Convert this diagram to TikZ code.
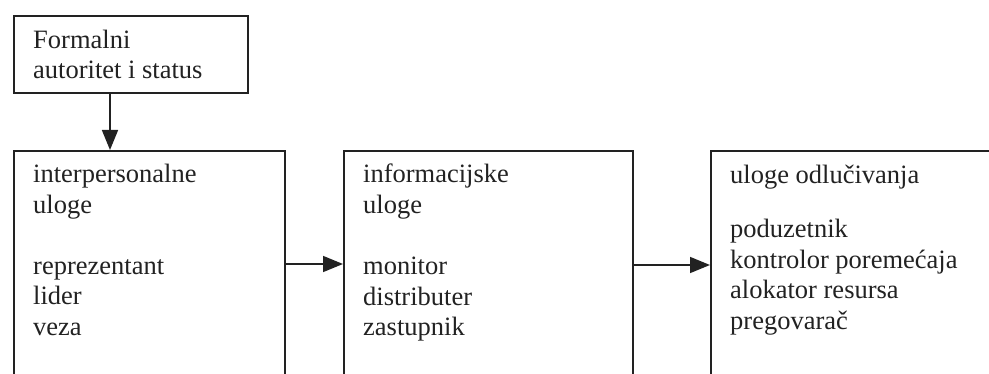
\documentclass[tikz,border=0pt]{standalone}
\usepackage{fontspec}
\setmainfont{Liberation Serif}
\usetikzlibrary{arrows.meta}
\definecolor{ink}{HTML}{222222}
\begin{document}
\begin{tikzpicture}[x=1pt,y=1pt,
  box/.style={draw=ink, line width=1.6pt, anchor=north west, inner sep=0pt, rectangle},
  txt/.style={anchor=north west, inner sep=0pt, align=left, text=ink,
    font=\fontsize{26.5pt}{30.6pt}\selectfont},
  arr/.style={draw=ink, line width=1.6pt, -{Triangle[length=20pt,width=16pt]}}]
\useasboundingbox (0,0) rectangle (989,-374);
\clip (0,0) rectangle (989,-374);
\node[box, minimum width=234pt, minimum height=77pt] (top) at (13,-15) {};
\node[box, minimum width=271pt, minimum height=260pt] (b1) at (13,-150) {};
\node[box, minimum width=289pt, minimum height=260pt] (b2) at (343,-150) {};
\node[box, minimum width=300pt, minimum height=260pt] (b3) at (710,-150) {};
\node[txt] (t0) at (33,-29.5) {Formalni\\autoritet i status};
\node[txt] (t1) at (33,-164) {interpersonalne\\uloge\\[30.6pt]reprezentant\\lider\\veza};
\node[txt] (t2) at (363,-164) {informacijske\\uloge\\[30.6pt]monitor\\distributer\\zastupnik};
\node[txt] (t3) at (730,-165) {uloge odlučivanja\\[23.4pt]poduzetnik\\kontrolor poremećaja\\alokator resursa\\pregovarač};
\draw[arr] ([xshift=97pt]top.south west) -- ([xshift=97pt]b1.north west);
\draw[arr] ([yshift=-114pt]b1.north east) -- ([yshift=-114pt]b2.north west);
\draw[arr] ([yshift=-115pt]b2.north east) -- ([yshift=-115pt]b3.north west);
\end{tikzpicture}
\end{document}
